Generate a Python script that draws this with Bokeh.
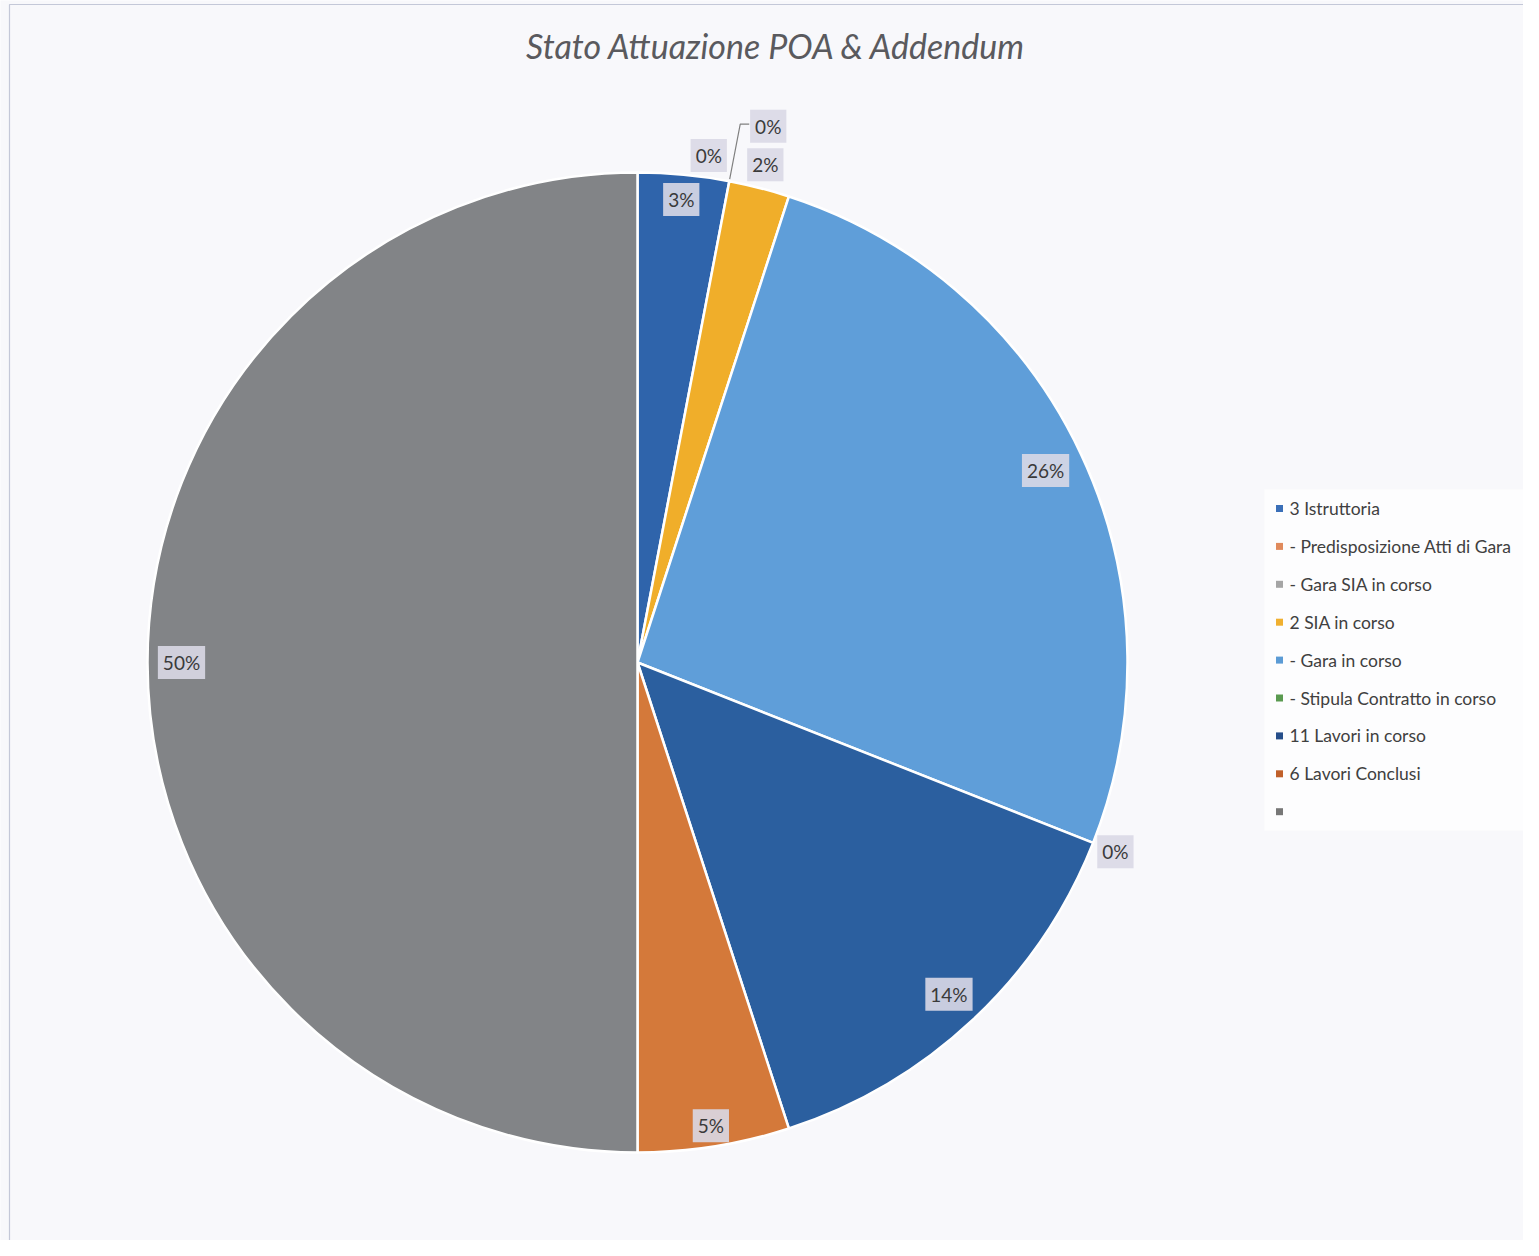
import numpy as np
from bokeh.plotting import figure
from bokeh.models import Range1d, Label, ColumnDataSource
from bokeh.embed import file_html
from bokeh.resources import INLINE
from bokeh.core.properties import value

# ---------------- data ----------------
chart_title = "Stato Attuazione POA & Addendum"
categories = ["3 Istruttoria", "- Predisposizione Atti di Gara", "- Gara SIA in corso",
              "2 SIA in corso", "- Gara in corso", "- Stipula Contratto in corso",
              "11 Lavori in corso", "6 Lavori Conclusi", ""]
percentages = [3, 0, 0, 2, 26, 0, 14, 5, 50]

# ---------------- styles ----------------
slice_colors = ["#2f64ab", "#e07b3c", "#a5a5a5", "#f0ae2a", "#5f9ed9", "#62a048",
                "#2b5f9f", "#d4793a", "#828487"]
legend_colors = ["#3a6fb8", "#e08a5c", "#a5a5a5", "#f0b030", "#5b9bd5", "#5a9a50",
                 "#264e8a", "#c0602a", "#777777"]
label_radius = [465, 512, 552, 514, 451, 514, 455, 469, 456]
label_angle_shift = [0, -2.8, 2.9, 0, 0, 0, 0, 0, 0]  # degrees

W, H = 1523, 1240
CX, CY, R = 637, 578, 490
FONT = "Lato"

p = figure(width=W, height=H, output_backend="svg", toolbar_location=None,
           x_range=Range1d(0, W), y_range=Range1d(0, H), min_border=0)
p.axis.visible = False
p.grid.visible = False
p.outline_line_color = None
p.background_fill_color = "#f8f8fb"
p.border_fill_color = "#ffffff"

# chart frame
p.line([9, 9, W], [0, H - 4, H - 4], line_color="#c4c8d8", line_width=1.2)

# pie
vals = np.array(percentages, dtype=float)
frac = vals / vals.sum()
cum_end = np.cumsum(frac)
cum_start = cum_end - frac
theta0 = 2 * np.pi * cum_start
theta1 = 2 * np.pi * cum_end
mask = vals > 0
src = ColumnDataSource(dict(
    start=(np.pi / 2 - theta0)[mask], end=(np.pi / 2 - theta1)[mask],
    color=[c for c, m in zip(slice_colors, mask) if m]))
p.wedge(x=CX, y=CY, radius=R, start_angle="start", end_angle="end", direction="clock",
        fill_color="color", line_color="white", line_width=2.5, source=src)

# data labels
mid = (theta0 + theta1) / 2
for i, v in enumerate(percentages):
    a = mid[i] + np.deg2rad(label_angle_shift[i])
    lx = CX + label_radius[i] * np.sin(a)
    ly = CY + label_radius[i] * np.cos(a)
    p.add_layout(Label(x=lx, y=ly, text=f"{v}%", text_align="center", text_baseline="middle",
                       text_font=FONT, text_font_size="19px", text_color="#3a3a3a",
                       background_fill_color="#d9d8e6", background_fill_alpha=0.9,
                       padding=5))
    if i == 2:
        sx = CX + (R + 2) * np.sin(theta0[i])
        sy = CY + (R + 2) * np.cos(theta0[i])
        ex = lx - 19
        p.line([sx, ex - 9, ex], [sy, ly + 2, ly + 2], line_color="#808080", line_width=1.2)

# title
p.add_layout(Label(x=776, y=1195, text=chart_title, text_align="center", text_baseline="middle",
                   text_font=FONT, text_font_style="italic", text_font_size="34px",
                   text_color="#5a5a5e"))

# legend
p.quad(left=[1264], right=[W], top=[751], bottom=[410], fill_color="#fdfdfe",
       line_color=None)
rows = np.arange(len(categories))
ly = 732 - 37.9 * rows
p.scatter(x=np.full(len(categories), 1279), y=ly, marker="square", size=7,
          fill_color=legend_colors, line_color=None)
p.text(x=np.full(len(categories), 1289), y=ly, text=categories, text_align="left",
       text_baseline="middle", text_font=value(FONT), text_font_size="17.5px",
       text_color="#404040")

open("out.html", "w").write(file_html(p, INLINE))
